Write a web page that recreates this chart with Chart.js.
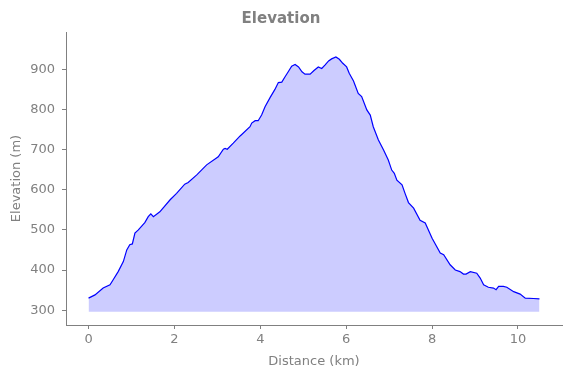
<!DOCTYPE html>
<html lang="en">
<head>
    <meta charset="UTF-8">
    <title>Elevation</title>
    <script src="https://cdn.jsdelivr.net/npm/chart.js"></script>
    <style>
        html, body { margin: 0; padding: 0; background: #fff; }
        #wrap { width: 571px; height: 378px; }
    </style>
</head>
<body>
    <div id="wrap"><canvas id="elevChart"></canvas></div>

    <script>
        // distance along the route (km) and elevation (m)
        const distances = [0, 0.15, 0.34, 0.5, 0.57, 0.69, 0.81, 0.89, 0.96, 1.02, 1.08, 1.16, 1.31, 1.39, 1.45, 1.51, 1.66, 1.9,
            2.05, 2.24, 2.32, 2.52, 2.75, 3.02, 3.14, 3.18, 3.23, 3.37, 3.53, 3.76, 3.8, 3.88, 3.95, 4.03, 4.11, 4.23,
            4.34, 4.42, 4.5, 4.58, 4.65, 4.73, 4.81, 4.89, 4.97, 5.04, 5.16, 5.25, 5.35, 5.43, 5.51, 5.59, 5.66, 5.76,
            5.84, 5.92, 6.01, 6.07, 6.17, 6.28, 6.36, 6.48, 6.56, 6.63, 6.75, 6.87, 6.98, 7.06, 7.12, 7.18, 7.3, 7.37,
            7.45, 7.57, 7.72, 7.84, 8.0, 8.19, 8.27, 8.42, 8.54, 8.65, 8.73, 8.79, 8.89, 9.04, 9.12, 9.2, 9.31, 9.43,
            9.49, 9.55, 9.66, 9.74, 9.9, 10.05, 10.17, 10.36, 10.5];
        const elevations = [330, 338, 355, 363, 375, 396, 421, 450, 463, 465, 492, 500, 518, 533, 540, 533, 545, 575,
            591, 614, 618, 637, 662, 682, 701, 703, 701, 716, 734, 757, 766, 772, 772, 786, 807, 830,
            850, 867, 868, 882, 894, 908, 912, 906, 894, 888, 888, 897, 906, 902, 911, 921, 926, 931,
            925, 915, 906, 890, 871, 840, 832, 799, 786, 757, 724, 699, 674, 649, 641, 624, 612, 591,
            568, 554, 524, 517, 479, 442, 438, 413, 400, 396, 390, 390, 396, 392, 380, 363, 357, 355,
            351, 359, 359, 357, 346, 340, 330, 329, 328];
        const xTicks = [0, 2, 4, 6, 8, 10];
        const yTicks = [300, 400, 500, 600, 700, 800, 900];
        const fillBase = 296;

        const grey = '#808080';
        const font = 'DejaVu Sans';

        const points = distances.map((d, i) => ({ x: d, y: elevations[i] }));

        new Chart(document.getElementById('elevChart'), {
            type: 'line',
            data: {
                datasets: [{
                    data: points,
                    borderColor: '#0000ff',
                    borderWidth: 1.2,
                    backgroundColor: 'rgba(0, 0, 255, 0.2)',
                    fill: { value: fillBase },
                    pointRadius: 0,
                    tension: 0,
                }],
            },
            options: {
                responsive: true,
                maintainAspectRatio: false,
                animation: false,
                layout: { padding: { left: 0, right: 9, top: 0, bottom: 0 } },
                plugins: {
                    legend: { display: false },
                    tooltip: { enabled: false },
                    title: {
                        display: true,
                        text: 'Elevation',
                        color: grey,
                        font: { family: font, size: 15, weight: 'bold', lineHeight: 1.2 },
                        padding: { top: 10, bottom: 4 },
                    },
                },
                scales: {
                    x: {
                        type: 'linear',
                        min: -0.525,
                        max: 11.025,
                        afterFit: s => { s.height = 53; },
                        afterBuildTicks: s => { s.ticks = xTicks.map(v => ({ value: v })); },
                        border: { color: grey, width: 1 },
                        grid: { drawOnChartArea: false, color: grey, tickLength: 4 },
                        ticks: { color: grey, font: { family: font, size: 13 }, padding: 3, autoSkip: false, maxRotation: 0 },
                        title: { display: true, text: 'Distance (km)', color: grey, font: { family: font, size: 13 }, padding: { top: 0, bottom: 9 } },
                    },
                    y: {
                        min: 263,
                        max: 993,
                        afterFit: s => { s.width = 66; },
                        afterBuildTicks: s => { s.ticks = yTicks.map(v => ({ value: v })); },
                        border: { color: grey, width: 1 },
                        grid: { drawOnChartArea: false, color: grey, tickLength: 4 },
                        ticks: { color: grey, font: { family: font, size: 13 }, padding: 7 },
                        title: { display: true, text: 'Elevation (m)', color: grey, font: { family: font, size: 13 }, padding: { top: 9, bottom: 0 } },
                    },
                },
            },
        });
    </script>
</body>
</html>
